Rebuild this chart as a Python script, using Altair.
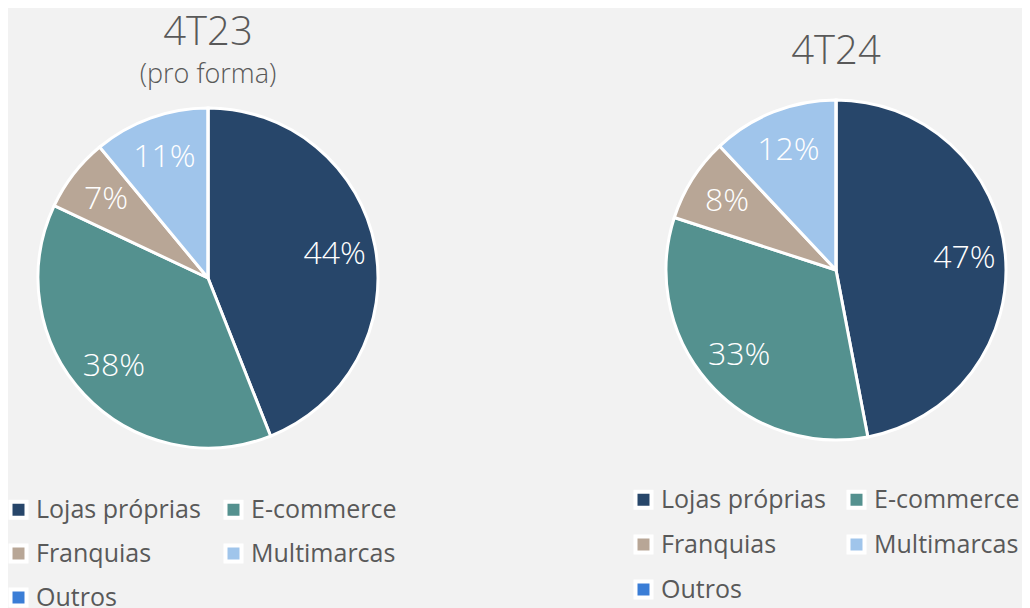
import altair as alt
import pandas as pd

FONT = "Open Sans"
TEXT_GRAY = "#595959"

categories = ["Lojas próprias", "E-commerce", "Franquias", "Multimarcas", "Outros"]
colors = ["#27466a", "#54918f", "#b8a696", "#a0c5eb", "#3a7dd6"]
periods = ["4T23", "4T24"]
values_4t23 = [44, 38, 7, 11, 0]
values_4t24 = [47, 33, 8, 12, 0]
subtitle_4t23 = "(pro forma)"

rows = []
for period, vals in zip(periods, [values_4t23, values_4t24]):
    for i, (c, v) in enumerate(zip(categories, vals)):
        rows.append({"period": period, "cat": c, "value": v, "idx": i,
                     "label": f"{v}%" if v > 0 else ""})
df = pd.DataFrame(rows)

TAU = 6.283185307179586
x_scale = alt.Scale(type="point", domain=periods, range=[200, 828], padding=0)
y_scale = alt.Scale(type="point", domain=periods, range=[270, 262], padding=0)
theta_scale = alt.Scale(domain=[0, 1], range=[0, TAU])


def legend(lx, ly, col_pad, row_pad):
    return alt.Legend(
        orient="none", legendX=lx, legendY=ly,
        direction="horizontal", columns=2, title=None,
        symbolType="square", symbolSize=256,
        symbolStrokeColor="white", symbolStrokeWidth=4, symbolOpacity=1,
        labelFont=FONT, labelFontSize=25, labelColor=TEXT_GRAY,
        labelOffset=5, rowPadding=row_pad, columnPadding=col_pad,
        padding=0, labelLimit=400,
    )


base = (
    alt.Chart(df)
    .transform_joinaggregate(total="sum(value)", groupby=["period"])
    .transform_window(cum="sum(value)", groupby=["period"],
                      sort=[alt.SortField("idx")], frame=[None, 0])
    .transform_calculate(
        end="datum.cum / datum.total",
        start="(datum.cum - datum.value) / datum.total",
        mid="(datum.cum - datum.value / 2) / datum.total",
    )
    .encode(
        x=alt.X("period:N", scale=x_scale, axis=None),
        y=alt.Y("period:N", scale=y_scale, axis=None),
    )
)

arc_kw = dict(outerRadius=170, stroke="white", strokeWidth=3)

arc_left = base.transform_filter(alt.datum.period == periods[0]).mark_arc(**arc_kw).encode(
    theta=alt.Theta("start:Q", scale=theta_scale, stack=None),
    theta2="end:Q",
    color=alt.Color("cat:N", sort=categories,
                    scale=alt.Scale(domain=categories, range=colors),
                    legend=legend(-2, 489, 16, 11)),
)
arc_right = base.transform_filter(alt.datum.period == periods[1]).mark_arc(**arc_kw).encode(
    theta=alt.Theta("start:Q", scale=theta_scale, stack=None),
    theta2="end:Q",
    fill=alt.Fill("cat:N", sort=categories,
                  scale=alt.Scale(domain=categories, range=colors),
                  legend=legend(623, 479, 14, 12)),
)
labels = base.mark_text(radius=129, fontSize=32, font=FONT, fontWeight=300,
                        color="white").encode(
    theta=alt.Theta("mid:Q", scale=theta_scale, stack=None),
    text="label:N",
)

title_df = pd.DataFrame({"period": periods})
title_main_left = alt.Chart(title_df).transform_filter(alt.datum.period == periods[0]).mark_text(
    font=FONT, fontSize=40, fontWeight=300, color=TEXT_GRAY
).encode(x=alt.X("period:N", scale=x_scale, axis=None), y=alt.value(25), text="period:N")
title_main_right = alt.Chart(title_df).transform_filter(alt.datum.period == periods[1]).mark_text(
    font=FONT, fontSize=40, fontWeight=300, color=TEXT_GRAY
).encode(x=alt.X("period:N", scale=x_scale, axis=None), y=alt.value(44), text="period:N")
sub_df = pd.DataFrame({"period": [periods[0]], "t": [subtitle_4t23]})
title_sub = alt.Chart(sub_df).mark_text(
    font=FONT, fontSize=27, fontWeight=300, color=TEXT_GRAY
).encode(x=alt.X("period:N", scale=x_scale, axis=None), y=alt.value(67), text="t:N")

chart = (
    alt.layer(arc_left, arc_right, labels, title_main_left, title_main_right, title_sub)
    .resolve_scale(color="independent", fill="independent")
    .properties(width=1014, height=600, padding=0, background="#f2f2f2",
                autosize=alt.AutoSizeParams(type="none"))
    .configure_view(stroke=None)
)

chart.save("out.html", embed_options={"renderer": "svg", "actions": False})
